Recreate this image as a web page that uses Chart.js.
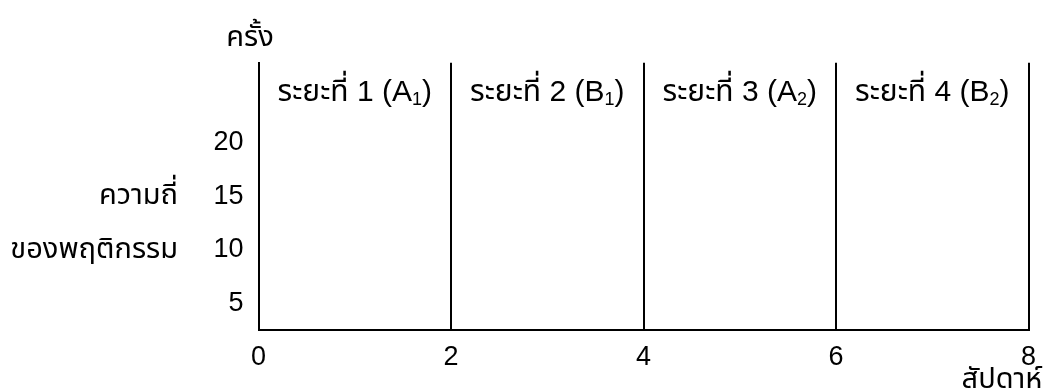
<!DOCTYPE html>
<html>
<head>
<meta charset="utf-8">
<script src="https://cdn.jsdelivr.net/npm/chart.js@4/dist/chart.umd.min.js"></script>
<style>
  html, body { margin: 0; padding: 0; background: #fff; }
  canvas { display: block; }
</style>
</head>
<body>
<canvas id="c" width="1049" height="391"></canvas>
<script>
// ---- data ----
const xTicks = [0, 2, 4, 6, 8];
const yTicks = [5, 10, 15, 20];
const xRange = [0, 8];
const yRange = [2.6, 27.4];
const phaseBounds = [0, 2, 4, 6, 8];
const phaseNames = ['ระยะที่ 1 (A', 'ระยะที่ 2 (B', 'ระยะที่ 3 (A', 'ระยะที่ 4 (B'];
const phaseSubs = ['1', '1', '2', '2'];
const yTitleLines = ['ความถี่', 'ของพฤติกรรม'];
const yTitleAt = [15, 10];
const yUnit = 'ครั้ง';
const xTitle = 'สัปดาห์';

const FAMILY = '"Liberation Sans", Arial, "Noto Sans Thai", Tahoma, sans-serif';
const FS = 27;
const FT = 29; // Thai-containing labels
const FP = 30; // phase labels

const annot = {
  id: 'annot',
  afterDraw(chart) {
    const ctx = chart.ctx;
    const xs = chart.scales.x, ys = chart.scales.y;
    ctx.save();
    ctx.fillStyle = '#000';
    // phase labels
    for (let i = 0; i < phaseNames.length; i++) {
      const cx = (xs.getPixelForValue(phaseBounds[i]) + xs.getPixelForValue(phaseBounds[i + 1])) / 2;
      const main = phaseNames[i], sub = phaseSubs[i], close = ')';
      ctx.font = FP + 'px ' + FAMILY;
      const w1 = ctx.measureText(main).width;
      const w3 = ctx.measureText(close).width;
      ctx.font = Math.round(FP * 0.6) + 'px ' + FAMILY;
      const w2 = ctx.measureText(sub).width;
      let x = cx - (w1 + w2 + w3) / 2;
      const base = chart.chartArea.top + 38;
      ctx.textBaseline = 'alphabetic';
      ctx.textAlign = 'left';
      ctx.font = FP + 'px ' + FAMILY;
      ctx.fillText(main, x, base);
      x += w1;
      ctx.font = Math.round(FP * 0.6) + 'px ' + FAMILY;
      ctx.fillText(sub, x, base + 4);
      x += w2;
      ctx.font = FP + 'px ' + FAMILY;
      ctx.fillText(close, x, base);
    }
    // y title lines
    ctx.font = FT + 'px ' + FAMILY;
    ctx.textAlign = 'right';
    ctx.textBaseline = 'middle';
    for (let i = 0; i < yTitleLines.length; i++) {
      ctx.fillText(yTitleLines[i], 178, ys.getPixelForValue(yTitleAt[i]));
    }
    // unit at top
    ctx.textAlign = 'center';
    ctx.textBaseline = 'alphabetic';
    ctx.fillText(yUnit, 250, 46);
    // x title
    ctx.fillText(xTitle, 1002, 388);
    ctx.restore();
  }
};

new Chart(document.getElementById('c'), {
  type: 'scatter',
  data: { datasets: [{ data: [] }] },
  options: {
    responsive: false,
    devicePixelRatio: 1,
    animation: false,
    layout: { padding: { left: 0, right: 20.5, top: 62.7, bottom: 0 } },
    plugins: { legend: { display: false }, tooltip: { enabled: false } },
    scales: {
      x: {
        type: 'linear',
        min: xRange[0], max: xRange[1],
        afterBuildTicks: s => { s.ticks = xTicks.map(v => ({ value: v })); },
        afterFit: s => { s.height = 61.3; },
        grid: {
          display: true,
          drawTicks: false,
          lineWidth: 2,
          color: c => (c.tick && c.tick.value === xRange[0]) ? 'rgba(0,0,0,0)' : '#000'
        },
        border: { display: true, color: '#000', width: 2 },
        ticks: { color: '#000', padding: 12, maxRotation: 0, font: { family: FAMILY, size: FS } }
      },
      y: {
        type: 'linear',
        min: yRange[0], max: yRange[1],
        afterBuildTicks: s => { s.ticks = yTicks.map(v => ({ value: v })); },
        afterFit: s => { s.width = 258.5; },
        grid: { display: false, drawTicks: false },
        border: { display: true, color: '#000', width: 2 },
        ticks: { color: '#000', padding: 15, font: { family: FAMILY, size: FS } }
      }
    }
  },
  plugins: [annot]
});
</script>
</body>
</html>
